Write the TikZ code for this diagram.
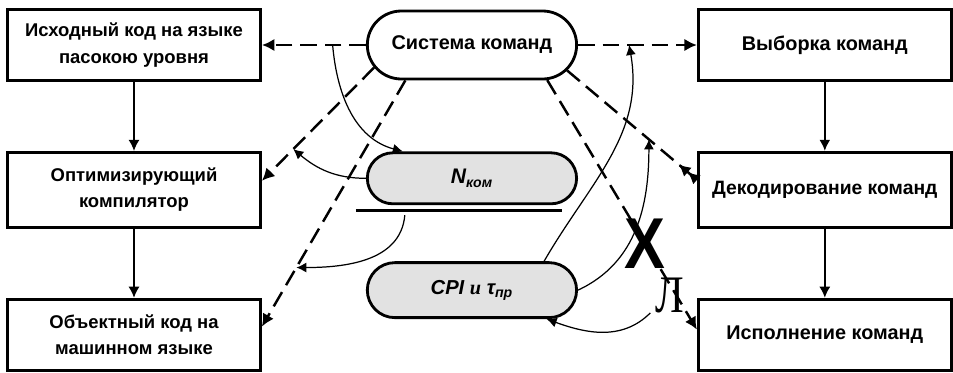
\documentclass[tikz,border=0pt]{standalone}
\usepackage{fontspec}
\setmainfont{Liberation Sans}
\newfontfamily\cyrserif{Liberation Serif}
\definecolor{pillgray}{RGB}{226, 226, 226}
\usetikzlibrary{shapes.misc,arrows.meta,positioning,calc}

\begin{document}
\begin{tikzpicture}[node distance=1.38cm,
    box/.style={rectangle, draw, line width=1.6pt, minimum width=5.06cm, minimum height=1.42cm, align=center, font=\bfseries\fontsize{10.5}{15}\selectfont},
    pill/.style={rounded rectangle, draw, line width=1.6pt, minimum width=4.42cm},
    dashlink/.style={dash pattern=on 3.3mm off 1.6mm, line width=1.4pt, -{Latex[length=2.5mm,width=2.5mm]}},
    flow/.style={line width=0.8pt, -{Latex[length=2.2mm,width=2.2mm]}},
    curvelink/.style={line width=0.7pt, -{Latex[length=2mm,width=2mm]}}]
    \useasboundingbox (0,0) rectangle (19.06,-7.44);

    % compiler side
    \node[box] (src) at (2.68,-0.9) {Исходный код на языке\\пасокою уровня};
    \node[box, minimum height=1.5cm, below=of src] (opt) {Оптимизирующий\\компилятор};
    \node[box, below=of opt] (obj) {Объектный код на\\машинном языке};

    % processor side
    \node[box, right=8.7cm of src, font=\bfseries\fontsize{11.3}{15}\selectfont] (fetch) {Выборка команд};
    \node[box, minimum height=1.5cm, below=of fetch, font=\bfseries\fontsize{11}{15}\selectfont] (decode) {Декодирование команд};
    \node[box, below=of decode, font=\bfseries\fontsize{11.3}{15}\selectfont] (exec) {Исполнение команд};

    % instruction set and its parameters
    \node[pill, minimum height=1.36cm, right=2.08cm of src, font=\bfseries\fontsize{11.3}{12}\selectfont] (isa) {Система команд};
    \node[pill, fill=pillgray, minimum height=1.02cm, below=1.42cm of isa, font=\bfseries\itshape\fontsize{12}{12}\selectfont] (nkom) {N\textsubscript{ком}};
    \node[pill, fill=pillgray, minimum height=1.1cm, below=1.12cm of nkom, font=\bfseries\itshape\fontsize{11.5}{12}\selectfont] (cpi) {CPI {\cyrserif и} τ\textsubscript{пр}};
    \draw[line width=1.6pt] ($(nkom.south west)+(-0.74,-0.1)$) -- ($(nkom.south east)+(0.22,-0.1)$);
    \coordinate (ul) at ($(nkom.south west)+(0.24,-0.2)$);

    \node[font=\bfseries\fontsize{41}{41}\selectfont, inner sep=0] (xmark) at (12.9,-4.88) {\scalebox{0.85}[1]{X}};
    \node[font=\cyrserif\fontsize{30}{30}\selectfont, inner sep=0] (lmark) at (13.4,-5.9) {\scalebox{0.8}[1]{Л}};

    \draw[flow] (src) -- (opt);
    \draw[flow] (opt) -- (obj);
    \draw[flow, line width=1.3pt] (fetch) -- (decode);
    \draw[flow] (decode) -- (exec);

    \draw[dashlink] (isa.west) -- coordinate[pos=0.32] (srcmid) (isa.west -| src.east);
    \draw[dashlink] (isa.east) -- coordinate[pos=0.43] (fetchmid) (isa.east -| fetch.west);
    \draw[dashlink] (isa.193) -- coordinate[pos=0.72] (optmid) ([yshift=0.18cm]opt.east);
    \draw[dashlink] (isa.208) -- coordinate[pos=0.76] (objmid) ([yshift=0.16cm]obj.east);
    \draw[dashlink, -{Latex[reversed,length=2.4mm,width=2.4mm]Latex[reversed,length=2.4mm,width=2.4mm]}] (isa.345) -- coordinate[pos=0.63] (decmid) ([yshift=0.2cm]decode.west);
    \draw[dashlink] (isa.335) -- ([yshift=0.1cm]exec.west);

    \draw[curvelink] (srcmid) to[out=-85,in=165] ([xshift=0.2cm]nkom.north west);
    \draw[curvelink] (nkom.west) to[out=180,in=-40] (optmid);
    \draw[curvelink] (ul) to[out=-95,in=0] (objmid);
    \draw[curvelink] ([xshift=-0.1cm]cpi.north east) to[out=60,in=-80] (fetchmid);
    \draw[curvelink] (cpi.east) to[out=25,in=-90] (decmid);
    \draw[curvelink] ([xshift=-0.1cm]lmark.south west) to[out=-135,in=-20] ([xshift=-0.05cm]cpi.south east);
\end{tikzpicture}
\end{document}
